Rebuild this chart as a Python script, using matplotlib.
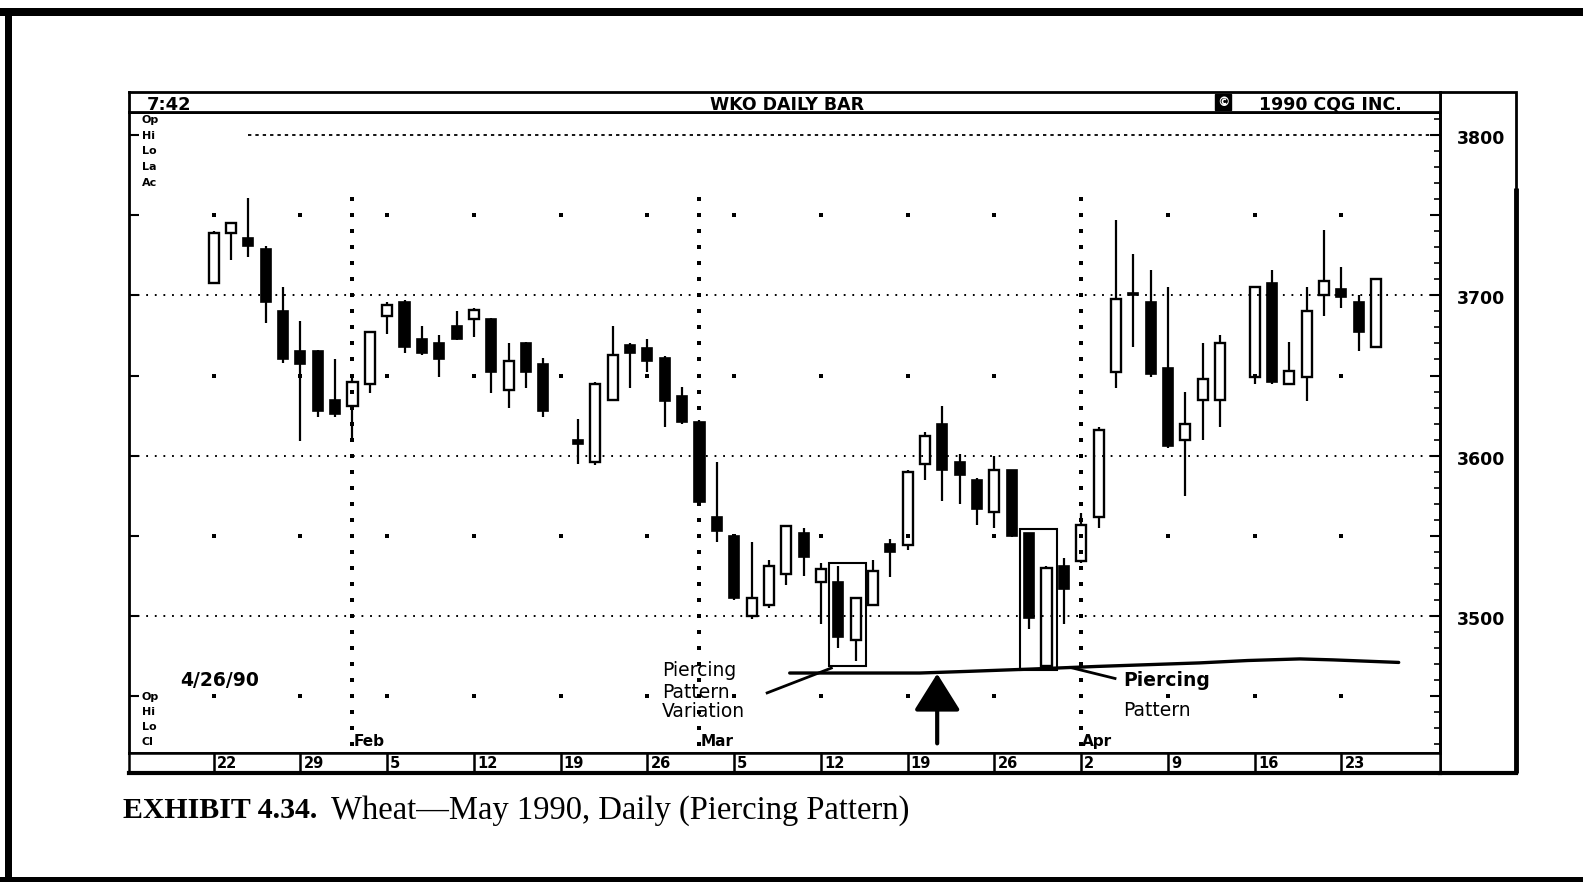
import numpy as np
import matplotlib
matplotlib.use("Agg")
import matplotlib.pyplot as plt
from matplotlib.patches import Rectangle, FancyArrowPatch
from matplotlib.transforms import offset_copy

plt.rcParams['lines.scale_dashes'] = False
plt.rcParams['font.family'] = ['DejaVu Sans']

# ---------------- data ----------------
dates = ["1990-01-22", "1990-01-23", "1990-01-24", "1990-01-25", "1990-01-26",
         "1990-01-29", "1990-01-30", "1990-01-31", "1990-02-01", "1990-02-02",
         "1990-02-05", "1990-02-06", "1990-02-07", "1990-02-08", "1990-02-09",
         "1990-02-12", "1990-02-13", "1990-02-14", "1990-02-15", "1990-02-16",
         "1990-02-20", "1990-02-21", "1990-02-22", "1990-02-23",
         "1990-02-26", "1990-02-27", "1990-02-28", "1990-03-01", "1990-03-02",
         "1990-03-05", "1990-03-06", "1990-03-07", "1990-03-08", "1990-03-09",
         "1990-03-12", "1990-03-13", "1990-03-14", "1990-03-15", "1990-03-16",
         "1990-03-19", "1990-03-20", "1990-03-21", "1990-03-22", "1990-03-23",
         "1990-03-26", "1990-03-27", "1990-03-28", "1990-03-29", "1990-03-30",
         "1990-04-02", "1990-04-03", "1990-04-04", "1990-04-05", "1990-04-06",
         "1990-04-09", "1990-04-10", "1990-04-11", "1990-04-12",
         "1990-04-16", "1990-04-17", "1990-04-18", "1990-04-19", "1990-04-20",
         "1990-04-23", "1990-04-24", "1990-04-25"]
opens = [3708, 3739, 3736, 3729, 3690,
         3665, 3665, 3635, 3631, 3645,
         3687, 3696, 3673, 3670, 3681,
         3685, 3685, 3641, 3670, 3657,
         3610, 3596, 3635, 3669,
         3667, 3661, 3637, 3621, 3562,
         3550, 3500, 3507, 3526, 3552,
         3521, 3521, 3485, 3507, 3545,
         3544, 3595, 3620, 3596, 3585,
         3565, 3591, 3552, 3469, 3531,
         3534, 3562, 3652, 3701, 3696,
         3655, 3610, 3635, 3635,
         3649, 3708, 3645, 3649, 3700,
         3704, 3696, 3668]
highs = [3740, 3746, 3761, 3731, 3705,
         3684, 3666, 3660, 3651, 3678,
         3696, 3697, 3681, 3675, 3690,
         3692, 3686, 3670, 3671, 3661,
         3623, 3646, 3681, 3670,
         3673, 3662, 3643, 3622, 3596,
         3551, 3546, 3535, 3557, 3555,
         3533, 3531, 3512, 3535, 3548,
         3591, 3615, 3631, 3601, 3586,
         3600, 3591, 3552, 3531, 3536,
         3564, 3618, 3747, 3726, 3716,
         3705, 3640, 3670, 3675,
         3706, 3716, 3671, 3705, 3741,
         3718, 3700, 3711]
lows = [3707, 3722, 3724, 3683, 3658,
        3609, 3624, 3624, 3609, 3639,
        3676, 3664, 3663, 3649, 3672,
        3674, 3639, 3630, 3642, 3624,
        3595, 3594, 3634, 3642,
        3652, 3618, 3620, 3570, 3546,
        3510, 3498, 3505, 3519, 3525,
        3495, 3480, 3472, 3506, 3524,
        3541, 3585, 3572, 3570, 3557,
        3555, 3549, 3492, 3469, 3495,
        3533, 3555, 3642, 3668, 3649,
        3605, 3575, 3610, 3618,
        3645, 3645, 3644, 3634, 3687,
        3692, 3665, 3667]
closes = [3739, 3745, 3731, 3696, 3660,
          3657, 3628, 3626, 3646, 3677,
          3694, 3668, 3664, 3660, 3673,
          3691, 3652, 3659, 3652, 3628,
          3607, 3645, 3663, 3664,
          3659, 3634, 3621, 3571, 3553,
          3511, 3511, 3531, 3556, 3537,
          3529, 3487, 3511, 3528, 3540,
          3590, 3612, 3591, 3588, 3567,
          3591, 3550, 3499, 3530, 3517,
          3557, 3616, 3698, 3700, 3651,
          3606, 3620, 3648, 3670,
          3705, 3646, 3653, 3690, 3709,
          3699, 3677, 3710]

week_dates = ["1990-01-22", "1990-01-29", "1990-02-05", "1990-02-12", "1990-02-19",
              "1990-02-26", "1990-03-05", "1990-03-12", "1990-03-19", "1990-03-26",
              "1990-04-02", "1990-04-09", "1990-04-16", "1990-04-23"]
week_labels = ["22", "29", "5", "12", "19", "26", "5", "12", "19", "26", "2", "9", "16", "23"]
month_dates = ["1990-02-01", "1990-03-01", "1990-04-02"]
month_labels = ["Feb", "Mar", "Apr"]
price_levels = [3500, 3600, 3700, 3800]
price_labels = ["3500", "3600", "3700", "3800"]
half_levels = [3450, 3550, 3650, 3750]

header_left = "7:42"
header_mid = "WKO DAILY BAR"
header_copy = "©"
header_right = "1990 CQG INC."
chart_date = "4/26/90"
top_fields = ["Op", "Hi", "Lo", "La", "Ac"]
bottom_fields = ["Op", "Hi", "Lo", "Cl"]
caption_bold = "EXHIBIT 4.34."
caption_rest = "Wheat\u2014May 1990, Daily (Piercing Pattern)"
pattern_boxes = [["1990-03-13", "1990-03-14"], ["1990-03-28", "1990-03-29"]]

ORIGIN = "1990-01-22"


def day_index(d):
    return np.busday_count(ORIGIN, np.asarray(d, dtype="datetime64[D]")).astype(float)


x = day_index(dates)
o = np.array(opens, float)
h = np.array(highs, float)
l = np.array(lows, float)
c = np.array(closes, float)
wx = day_index(week_dates)
mx = day_index(month_dates)

# ---------------- figure / layout ----------------
W, H = 1583, 882
fig = plt.figure(figsize=(W / 100, H / 100), dpi=100)


def px_axes(x0, y0, x1, y1, **kw):
    return fig.add_axes([x0 / W, 1 - y1 / H, (x1 - x0) / W, (y1 - y0) / H], **kw)


bg = fig.add_axes([0, 0, 1, 1])
bg.set_xlim(0, W)
bg.set_ylim(H, 0)
bg.axis("off")

# outer frame of the page
bg.add_patch(Rectangle((0, 8), W, 8, color="k", lw=0))
bg.add_patch(Rectangle((5, 8), 7, H - 8, color="k", lw=0))
bg.add_patch(Rectangle((0, 877), W, 5, color="k", lw=0))

# right price panel
bg.add_patch(Rectangle((1440, 92), 76, 681, fill=False, ec="k", lw=2))
bg.plot([1516, 1516], [188, 773], color="k", lw=3.5, solid_capstyle="butt")

# ---------------- main chart ----------------
ax = px_axes(129, 112, 1440, 753)
ax.patch.set_visible(False)
XMIN, XMAX = -4.88, 70.68
ax.set_xlim(XMIN, XMAX)
ax.set_ylim(3414.5, 3814.4)
for s in ax.spines.values():
    s.set_linewidth(2)
ax.set_xticks([])

# y ticks (both borders), labels in right panel
ax.set_yticks(np.arange(3450, 3801, 50))
ax.set_yticklabels([])
ax.set_yticks(np.arange(3420, 3811, 10), minor=True)
ax.tick_params(axis="y", which="major", direction="in", length=7, width=1.5,
               left=True, right=True, labelleft=False, labelright=False)
ax.tick_params(axis="y", which="minor", direction="in", length=4, width=1.2,
               left=False, right=True)

ytr = offset_copy(ax.get_yaxis_transform(), fig=fig, x=0, y=-4, units="dots")
for p, lab in zip(price_levels, price_labels):
    ax.text(1.0125, p, lab, transform=ytr, ha="left", va="center",
            fontsize=12.5, fontweight="bold", clip_on=False)

# grid
dot = (0, (1.3, 4.9))
for p in price_levels[:-1]:
    ax.axhline(p, color="k", lw=1.4, ls=dot, zorder=1)
ax.hlines(price_levels[-1], 2.0, XMAX, color="k", lw=1.3, ls=(0, (2.4, 2.9)), zorder=1)

gx, gy = np.meshgrid(wx, half_levels)
ax.plot(gx.ravel(), gy.ravel(), "s", color="k", ms=2.2, mew=0, zorder=1)
vdots = np.arange(3420, 3761, 10)
for m, lab in zip(mx, month_labels):
    ax.plot(np.full(len(vdots), m), vdots, "s", color="k", ms=2.3, mew=0, zorder=1)
    ax.text(m + 0.05, 3421.5, lab, fontsize=11, fontweight="bold", ha="left", va="center")

# candles
BW = 0.58
top = np.maximum(o, c)
bot = np.minimum(o, c)
ax.vlines(x, top, h, color="k", lw=1.6, zorder=3)
ax.vlines(x, l, bot, color="k", lw=1.6, zorder=3)
height = np.maximum(top - bot, 1.6)
up = c >= o
ax.bar(x[up], height[up], bottom=bot[up], width=BW, facecolor="none",
       edgecolor="k", linewidth=1.7, zorder=4)
ax.bar(x[~up], height[~up], bottom=bot[~up], width=BW, facecolor="k",
       edgecolor="k", linewidth=1.2, zorder=4)

# pattern boxes
for pair in pattern_boxes:
    ii = np.isin(x, day_index(pair))
    x0 = x[ii].min() - 0.52
    x1 = x[ii].max() + 0.6
    y1 = h[ii].max() + 2
    y0 = l[ii].min() - 3
    ax.add_patch(Rectangle((x0, y0), x1 - x0, y1 - y0, fill=False, ec="k", lw=1.5, zorder=5))

# hand-drawn support line and pointers
support_days = [33.2, 35.5, 40.7, 43.4, 47.2, 50.9, 56.8, 59.6, 62.6, 64.5, 68.3]
support_price = [3464.4, 3464.4, 3464.4, 3465.4, 3466.9, 3468.5, 3470.7, 3472.2, 3473.2, 3472.6, 3471.0]
ax.plot(support_days, support_price, color="k", lw=2.4, zorder=6, solid_capstyle="round")
ax.plot([31.9, 35.6], [3452.0, 3467.5], color="k", lw=2.0, zorder=6)
ax.plot([49.4, 51.95], [3467.8, 3461.0], color="k", lw=2.0, zorder=6)

arrow = FancyArrowPatch((41.7, 3420.5), (41.7, 3464.0),
                        arrowstyle="-|>,head_length=1.15,head_width=0.72",
                        mutation_scale=20, lw=3, color="k", shrinkA=0, shrinkB=0, zorder=6)
ax.add_patch(arrow)

ann_kw = dict(fontsize=13.5, ha="left", va="center", zorder=7)
ax.text(25.85, 3466.0, "Piercing", **ann_kw)
ax.text(25.85, 3452.2, "Pattern", **ann_kw)
ax.text(25.85, 3440.4, "Variation", **ann_kw)
ax.text(52.4, 3459.5, "Piercing", fontweight="bold", **ann_kw)
ax.text(52.4, 3440.8, "Pattern", **ann_kw)

# ---------------- header strip ----------------
hd = px_axes(129, 92, 1440, 112)
hd.set_xlim(0, 1)
hd.set_ylim(0, 1)
hd.set_xticks([])
hd.set_yticks([])
for s in hd.spines.values():
    s.set_linewidth(2)
hd.text(0.0137, 0.1, header_left, fontsize=13, fontweight="bold", ha="left", va="baseline")
hd.text(0.502, 0.1, header_mid, fontsize=12.5, fontweight="bold", ha="center", va="baseline")
hd.text(0.8345, 0.5, header_copy, fontsize=9, fontweight="bold", color="white", ha="center",
        va="center", bbox=dict(boxstyle="square,pad=0.15", fc="k", ec="k"))
hd.text(0.862, 0.1, header_right, fontsize=12.5, fontweight="bold", ha="left", va="baseline")

# ---------------- date strip ----------------
ds = px_axes(129, 753, 1440, 773, sharex=ax)
ds.set_ylim(0, 1)
ds.set_yticks([])
ds.tick_params(axis="x", bottom=False, labelbottom=False)
for s in ds.spines.values():
    s.set_linewidth(1.8)
ds.spines["bottom"].set_linewidth(3)
for wv, lab in zip(wx, week_labels):
    ds.axvline(wv, color="k", lw=1.8)
    ds.text(wv + 0.18, 0.45, lab, fontsize=10.5, fontweight="bold", ha="left", va="center")
bg.plot([1440, 1516], [773, 773], color="k", lw=3)

# ---------------- side labels ----------------
for i, f in enumerate(top_fields):
    bg.text(142, 120 + i * 15.7, f, fontsize=8, fontweight="bold", ha="left", va="center")
for i, f in enumerate(bottom_fields):
    bg.text(142, 697 + i * 15.0, f, fontsize=8, fontweight="bold", ha="left", va="center")
bg.text(180, 680, chart_date, fontsize=13.5, fontweight="bold", ha="left", va="center")

# ---------------- caption ----------------
t1 = bg.text(123, 811, caption_bold, fontsize=21.5, fontweight="bold",
             family=["Liberation Serif", "DejaVu Serif"], ha="left", va="center")
bg.annotate(caption_rest, xy=(1, 0.5), xycoords=t1, xytext=(10, 0), textcoords="offset points",
            fontsize=23.5, family=["Liberation Serif", "DejaVu Serif"], ha="left", va="center")

fig.savefig("out.png", dpi=100)
